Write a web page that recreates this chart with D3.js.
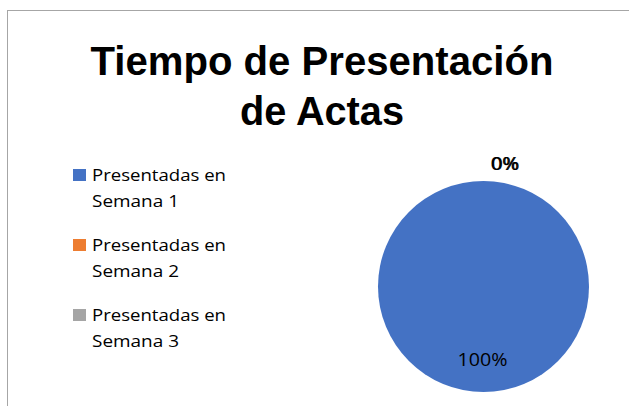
<!DOCTYPE html>
<html>
<head>
<meta charset="utf-8">
<script src="https://cdn.jsdelivr.net/npm/d3@7"></script>
<style>
  body { margin: 0; background: #fff; }
  text { font-family: "Open Sans", "Noto Sans", sans-serif; }
  text.title { font-family: "Liberation Sans", "Open Sans", sans-serif; }
</style>
</head>
<body>
<div class="canvas"></div>
<script>
// data
const categories = ['Presentadas en Semana 1', 'Presentadas en Semana 2', 'Presentadas en Semana 3'];
const values = [100, 0, 0];
const colors = ['#4472C4', '#ED7D31', '#A5A5A5'];
const titleLines = ['Tiempo de Presentación', 'de Actas'];

const width = 629, height = 406;

const svg = d3.select('.canvas')
    .append('svg')
        .attr('width', width)
        .attr('height', height);

// chart frame
svg.append('rect')
    .attr('x', 7.5).attr('y', 10.5)
    .attr('width', 640).attr('height', 420)
    .attr('fill', '#fff')
    .attr('stroke', '#a6a6a6');

// title (squeeze to the reference width)
const titleWidths = [463, 164];
const titleY = [75, 125];
titleLines.forEach((t, i) => {
    svg.append('text')
        .attr('class', 'title')
        .attr('x', 322)
        .attr('y', titleY[i])
        .attr('text-anchor', 'middle')
        .attr('font-weight', 700)
        .attr('font-size', 41)
        .attr('textLength', titleWidths[i])
        .attr('lengthAdjust', 'spacingAndGlyphs')
        .attr('fill', '#000')
        .text(t);
});

// legend
const legend = svg.append('g').attr('transform', 'translate(73, 169)');
const entries = legend.selectAll('g')
    .data(categories)
    .enter()
    .append('g')
        .attr('transform', (d, i) => `translate(0, ${i * 70})`);

entries.append('rect')
    .attr('width', 13).attr('height', 12)
    .attr('fill', (d, i) => colors[i]);

entries.each(function(d) {
    const g = d3.select(this);
    const words = d.split(' ');
    g.append('text')
        .attr('x', 19).attr('y', 12)
        .attr('font-size', 16.5)
        .attr('textLength', 134)
        .attr('lengthAdjust', 'spacingAndGlyphs')
        .attr('fill', '#000')
        .text(words.slice(0, 2).join(' '));
    g.append('text')
        .attr('x', 19).attr('y', 38)
        .attr('font-size', 16.5)
        .attr('textLength', 87)
        .attr('lengthAdjust', 'spacingAndGlyphs')
        .attr('fill', '#000')
        .text(words.slice(2).join(' '));
});

// pie
const cx = 483.5, cy = 286.5, r = 105.5;
const pieGroup = svg.append('g')
    .attr('transform', `translate(${cx}, ${cy})`);

const pie = d3.pie().sort(null).value(d => d);
const arcs = pie(values);
const arc = d3.arc().innerRadius(0).outerRadius(r);
const total = d3.sum(values);

pieGroup.selectAll('path')
    .data(arcs)
    .enter()
    .append('path')
        .attr('d', arc)
        .attr('fill', (d, i) => colors[i]);

const insideArc = d3.arc().innerRadius(r * 0.7).outerRadius(r * 0.7);
const outsideArc = d3.arc().innerRadius(r + 17).outerRadius(r + 17);

pieGroup.selectAll('text.lbl')
    .data(arcs)
    .enter()
    .append('text')
        .attr('class', 'lbl')
        .attr('font-size', 18)
        .attr('fill', '#000')
        .each(function(d, i) {
            const inside = d.value > 0;
            const c = inside ? insideArc.centroid(d) : outsideArc.centroid(d);
            d3.select(this)
                .attr('x', inside ? c[0] - 1 : c[0] + 6 + i)
                .attr('y', c[1] + 6)
                .attr('text-anchor', inside ? 'middle' : 'start')
                .attr('textLength', inside ? 50 : 28)
                .attr('lengthAdjust', 'spacingAndGlyphs')
                .text(d3.format('.0%')(d.value / total));
        });
</script>
</body>
</html>
